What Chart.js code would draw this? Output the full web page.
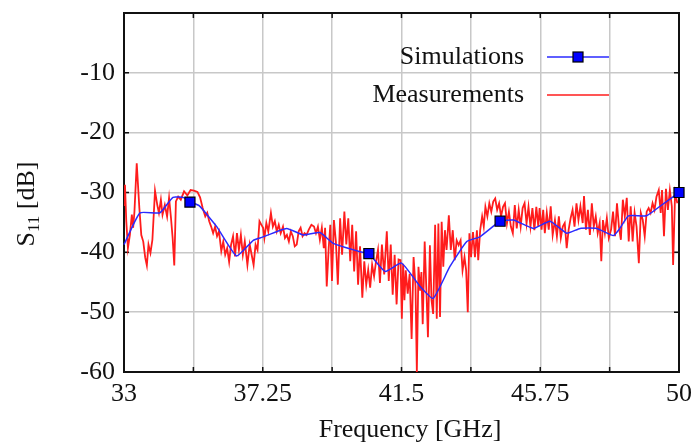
<!DOCTYPE html>
<html><head><meta charset="utf-8">
<script src="https://cdn.jsdelivr.net/npm/chart.js@4/dist/chart.umd.min.js"></script>
<style>html,body{margin:0;padding:0;background:#fff;overflow:hidden}#wrap{width:692px;height:444px}</style>
</head><body><div id="wrap"><canvas id="c" width="692" height="444"></canvas></div>
<script>
// ---- data ----
const xGridValues = [33, 35.125, 37.25, 39.375, 41.5, 43.625, 45.75, 47.875, 50];
const xTickLabels = ['33', '37.25', '41.5', '45.75', '50'];
const yTickValues = [-60, -50, -40, -30, -20, -10, 0];
const yTickLabels = ['-60', '-50', '-40', '-30', '-20', '-10', ''];
const seriesLabels = ['Simulations', 'Measurements'];
const axisTitles = ['Frequency [GHz]', 'S', '11', ' [dB]'];

const simFreq = [33.00, 33.49, 34.10, 34.50, 34.85, 35.02, 35.30, 35.84, 36.45, 36.96, 37.22, 37.98, 38.49, 39.00, 39.41, 40.23, 40.50, 41.00, 41.50, 42.07, 42.47, 42.98, 43.50, 43.90, 44.52, 44.93, 45.54, 46.05, 46.56, 46.97, 47.48, 47.99, 48.19, 48.45, 49.00, 49.42, 50.00];
const simS11 = [-38.7, -33.4, -33.4, -30.8, -30.9, -31.6, -32.2, -35.7, -40.6, -38.0, -37.5, -36.0, -37.1, -36.7, -38.5, -39.9, -40.2, -43.2, -41.8, -45.7, -47.7, -42.4, -38.2, -37.4, -34.8, -34.6, -36.0, -34.8, -36.8, -36.0, -36.0, -37.2, -36.0, -33.9, -33.9, -32.3, -30.0];
const simMarkerFreq = [35.02, 40.50, 44.52, 50.00];

const measFreq = [
33.00,33.03,33.07,33.12,33.18,33.24,33.28,33.32,33.39,33.47,
33.53,33.59,33.65,33.70,33.75,33.81,33.87,33.95,34.02,34.07,
34.13,34.18,34.25,34.32,34.38,34.44,34.49,34.54,34.59,34.66,
34.74,34.84,34.94,35.04,35.14,35.25,35.33,35.41,35.49,35.55,
35.61,35.67,35.73,35.79,35.85,35.91,35.98,36.04,36.10,36.16,
36.22,36.28,36.34,36.40,36.46,36.52,36.58,36.64,36.70,36.78,
36.85,36.91,36.97,37.03,37.09,37.15,37.21,
37.26,37.30,37.36,37.42,37.50,37.56,37.62,37.68,37.74,37.80,
37.87,37.93,37.99,38.05,38.11,38.17,38.23,38.29,38.35,38.41,
38.47,38.53,38.59,38.66,38.74,38.82,38.88,38.94,39.00,39.06,
39.12,39.16,39.21,39.27,39.32,39.37,39.43,39.49,39.55,39.62,
39.68,39.75,39.81,39.87,39.93,39.99,40.05,40.11,40.17,40.23,
40.30,40.36,40.42,40.48,40.54,40.60,40.66,40.72,40.78,40.84,
40.90,40.97,41.05,41.11,41.17,41.23,41.29,41.35,41.41,
41.47,41.51,41.55,41.59,41.63,41.69,41.75,41.81,41.87,41.93,
41.97,42.02,42.07,42.11,42.15,42.21,42.27,42.31,42.37,42.42,
42.47,42.53,42.58,42.63,42.68,42.73,42.78,42.83,42.88,42.95,
43.01,43.07,43.13,43.19,43.25,43.31,43.37,43.43,43.48,43.53,
43.58,43.63,43.69,43.75,43.81,43.85,43.91,43.97,44.02,44.07,
44.13,44.19,44.25,44.31,44.37,44.43,44.49,44.55,44.61,44.67,
44.73,44.79,44.85,44.91,44.97,45.03,45.09,45.15,45.21,45.27,
45.33,45.39,45.45,45.51,45.57,45.63,45.69,
45.73,45.79,45.84,45.89,45.95,46.01,46.07,46.13,46.20,46.26,
46.32,46.38,46.44,46.50,46.56,46.62,46.68,46.74,46.80,46.86,
46.92,46.98,47.05,47.09,47.15,47.21,47.27,47.33,47.39,47.45,
47.51,47.57,47.62,47.67,47.73,47.79,47.85,47.92,47.98,48.04,
48.10,48.16,48.22,48.28,48.34,48.40,48.46,48.52,48.58,48.64,
48.70,48.77,48.83,48.89,48.95,49.01,49.07,49.13,49.19,49.25,
49.31,49.38,49.44,49.48,49.54,49.60,49.66,49.72,49.78,49.82,
49.88,49.95];
const measS11 = [
-32.1,-28.7,-34.8,-39.3,-37.1,-33.7,-35.9,-33.2,-25.1,-32.6,
-37.1,-38.2,-40.9,-42.2,-38.7,-40.1,-37.9,-29.7,-32.1,-33.4,
-31.2,-33.7,-32.1,-34.0,-30.9,-34.3,-37.6,-42.2,-31.5,-30.7,
-31.2,-29.8,-30.5,-29.6,-29.7,-29.9,-30.8,-32.6,-34.0,-33.4,
-34.8,-35.7,-36.8,-35.7,-37.3,-36.5,-39.8,-38.2,-40.4,-39.3,
-41.6,-38.7,-37.3,-40.7,-36.8,-39.6,-37.1,-40.4,-38.2,-42.1,
-38.7,-40.4,-42.1,-38.7,-39.6,-34.8,-35.4,
-35.9,-37.6,-35.1,-36.5,-33.4,-35.7,-34.8,-36.5,-35.4,-36.8,
-35.7,-37.6,-37.1,-38.2,-36.5,-37.3,-39.0,-38.7,-36.5,-35.9,
-37.3,-36.8,-37.1,-36.2,-35.4,-35.7,-36.8,-35.7,-37.9,-35.9,
-39.3,-35.9,-45.7,-39.3,-35.4,-44.8,-34.6,-38.2,-45.4,-34.3,
-40.4,-33.2,-38.7,-34.3,-41.5,-35.4,-43.2,-36.5,-45.4,-39.0,
-47.6,-41.5,-45.4,-42.9,-45.9,-42.1,-44.0,-41.5,-39.6,-45.1,
-38.7,-43.7,-36.5,-44.8,-38.7,-47.1,-40.4,-48.7,-41.2,
-41.3,-51.1,-41.9,-48.0,-43.0,-46.9,-43.6,-54.5,-40.8,-45.8,
-60.0,-42.4,-46.4,-43.3,-52.0,-38.2,-47.5,-54.2,-38.8,-48.0,
-50.3,-35.4,-51.1,-35.2,-50.8,-34.9,-42.4,-36.3,-39.6,-33.8,
-39.6,-36.3,-41.3,-38.0,-38.8,-38.0,-43.0,-40.8,-43.0,-50.0,
-36.8,-40.8,-36.6,-40.8,-36.3,-41.3,-36.3,-34.0,-35.7,-32.4,
-34.0,-31.8,-33.2,-31.5,-31.0,-32.9,-31.8,-34.0,-32.4,-31.8,
-35.2,-33.2,-35.7,-36.8,-32.1,-36.0,-32.9,-35.7,-32.6,-31.8,
-35.2,-32.4,-35.7,-32.6,-36.3,-32.4,-35.7,
-32.6,-36.2,-32.9,-36.8,-33.4,-36.2,-32.3,-37.1,-34.6,-37.3,
-34.0,-37.6,-35.7,-35.1,-39.3,-36.2,-34.3,-32.9,-35.7,-31.8,
-34.6,-32.3,-35.1,-30.6,-36.2,-32.9,-37.1,-31.8,-35.7,-34.0,
-36.8,-35.1,-41.5,-34.6,-36.8,-34.3,-37.6,-36.2,-33.2,-37.3,
-31.8,-35.7,-37.9,-31.2,-34.0,-30.9,-38.2,-32.3,-38.2,-33.4,
-35.7,-41.8,-33.4,-34.6,-37.3,-33.2,-32.6,-33.4,-31.8,-32.9,
-30.7,-29.6,-33.4,-29.6,-37.3,-29.4,-32.9,-29.6,-32.3,-42.1,
-30.1,-31.8];

// ---- styling ----
const FONT = "'Liberation Serif','Times New Roman',serif";
const BLUE = '#2a2aff';
const RED = '#ff1c1c';

const frame = {
  id: 'frame',
  beforeDatasetsDraw(chart) {
    const {ctx, chartArea: a, scales: {x, y}} = chart;
    ctx.save();
    ctx.strokeStyle = '#111';
    ctx.lineWidth = 1.5;
    ctx.beginPath();
    x.ticks.forEach(t => {
      const px = x.getPixelForValue(t.value);
      ctx.moveTo(px, a.bottom); ctx.lineTo(px, a.bottom - 5);
      ctx.moveTo(px, a.top); ctx.lineTo(px, a.top + 5);
    });
    y.ticks.forEach(t => {
      const py = y.getPixelForValue(t.value);
      ctx.moveTo(a.left, py); ctx.lineTo(a.left + 5, py);
      ctx.moveTo(a.right, py); ctx.lineTo(a.right - 5, py);
    });
    ctx.stroke();
    ctx.lineWidth = 2;
    ctx.strokeRect(a.left, a.top, a.right - a.left, a.bottom - a.top);
    ctx.restore();
  },
  afterDatasetsDraw(chart) {
    const {ctx, chartArea: a} = chart;
    ctx.save();
    // legend
    ctx.font = '26px ' + FONT;
    ctx.fillStyle = '#111';
    ctx.textAlign = 'right';
    ctx.textBaseline = 'middle';
    const tx = a.right - 155, lx0 = a.right - 132, lx1 = a.right - 70;
    const y1 = a.top + 44, y2 = a.top + 82;
    ctx.fillText(seriesLabels[0], tx, y1);
    ctx.fillText(seriesLabels[1], tx, y2);
    ctx.lineWidth = 1.6;
    ctx.strokeStyle = BLUE;
    ctx.beginPath(); ctx.moveTo(lx0, y1); ctx.lineTo(lx1, y1); ctx.stroke();
    ctx.fillStyle = '#0000ff'; ctx.strokeStyle = '#000'; ctx.lineWidth = 1.2;
    const mx = (lx0 + lx1) / 2;
    ctx.fillRect(mx - 5, y1 - 5, 10, 10); ctx.strokeRect(mx - 5, y1 - 5, 10, 10);
    ctx.strokeStyle = RED; ctx.lineWidth = 1.6;
    ctx.beginPath(); ctx.moveTo(lx0, y2); ctx.lineTo(lx1, y2); ctx.stroke();
    // x title
    ctx.fillStyle = '#111';
    ctx.textAlign = 'center';
    ctx.textBaseline = 'alphabetic';
    ctx.font = '26px ' + FONT;
    ctx.fillText(axisTitles[0], 410, 437);
    // y title (rotated, with subscript)
    ctx.translate(34, 204);
    ctx.rotate(-Math.PI / 2);
    ctx.textAlign = 'left';
    const bigF = '26px ' + FONT, smallF = '17px ' + FONT;
    ctx.font = bigF; const wS = ctx.measureText(axisTitles[1]).width;
    const wB = ctx.measureText(axisTitles[3]).width;
    ctx.font = smallF; const w11 = ctx.measureText(axisTitles[2]).width;
    let sx = -(wS + w11 + wB) / 2;
    ctx.font = bigF; ctx.fillText(axisTitles[1], sx, 0); sx += wS;
    ctx.font = smallF; ctx.fillText(axisTitles[2], sx, 5); sx += w11;
    ctx.font = bigF; ctx.fillText(axisTitles[3], sx, 0);
    ctx.restore();
  }
};

new Chart(document.getElementById('c'), {
  type: 'line',
  data: {
    datasets: [
      {
        label: seriesLabels[0],
        data: simFreq.map((f, i) => ({x: f, y: simS11[i]})),
        borderColor: BLUE,
        borderWidth: 1.5,
        tension: 0.15,
        pointStyle: 'rect',
        pointRadius: c => simMarkerFreq.includes(simFreq[c.dataIndex]) ? 7.1 : 0,
        pointBackgroundColor: '#0000ff',
        pointBorderColor: '#000',
        pointBorderWidth: 1.2,
        clip: false
      },
      {
        label: seriesLabels[1],
        data: measFreq.map((f, i) => ({x: f, y: measS11[i]})),
        borderColor: RED,
        borderWidth: 1.8,
        tension: 0,
        pointRadius: 0
      }
    ]
  },
  options: {
    responsive: false,
    animation: false,
    devicePixelRatio: 1,
    layout: {padding: {top: 13, right: 13, left: 0, bottom: 0}},
    plugins: {legend: {display: false}, tooltip: {enabled: false}},
    scales: {
      x: {
        type: 'linear', min: 33, max: 50,
        afterBuildTicks: s => { s.ticks = xGridValues.map(v => ({value: v})); },
        afterFit: s => { s.height = 72; s.paddingLeft = 0; s.paddingRight = 0; },
        grid: {color: '#c8c8c8', lineWidth: 1.5, drawTicks: false},
        border: {display: false},
        ticks: {
          autoSkip: false, maxRotation: 0, padding: 7,
          color: '#111', font: {family: FONT, size: 26},
          callback: v => xTickLabels.includes(String(v)) ? String(v) : ''
        }
      },
      y: {
        type: 'linear', min: -60, max: 0,
        afterBuildTicks: s => { s.ticks = yTickValues.map(v => ({value: v})); },
        afterFit: s => { s.width = 124; s.paddingTop = 0; s.paddingBottom = 0; },
        grid: {color: '#c8c8c8', lineWidth: 1.5, drawTicks: false},
        border: {display: false},
        ticks: {
          padding: 9, color: '#111', font: {family: FONT, size: 26},
          callback: v => yTickLabels[yTickValues.indexOf(v)]
        }
      }
    }
  },
  plugins: [frame]
});
</script>
</body></html>
